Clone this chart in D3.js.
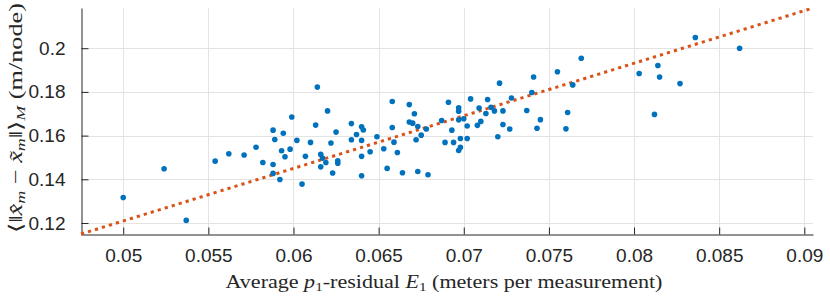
<!DOCTYPE html>
<html>
<head>
<meta charset="utf-8">
<script src="https://cdn.jsdelivr.net/npm/d3@7"></script>
<style>
  html, body { margin: 0; padding: 0; background: #fff; }
  svg { display: block; }
</style>
</head>
<body>
<div id="chart"></div>
<script>
// residual E1 (x) vs mean position error (y), one point per run
const residualE1 = [
  0.0500, 0.0524, 0.0537, 0.0554, 0.0562, 0.0571, 0.0578, 0.0582, 0.0588, 0.0589,
  0.0594, 0.0593, 0.0595, 0.0588, 0.0588, 0.0592, 0.0598, 0.0599, 0.0614, 0.0613,
  0.0620, 0.0602, 0.0610, 0.0616, 0.0607, 0.0617, 0.0616, 0.0619, 0.0605, 0.0622,
  0.0625, 0.0626, 0.0626, 0.0623, 0.0634, 0.0640, 0.0641, 0.0637, 0.0634, 0.0640,
  0.0640, 0.0640, 0.0649, 0.0645, 0.0653, 0.0658, 0.0658, 0.0659, 0.0661, 0.0655,
  0.0664, 0.0668, 0.0668, 0.0670, 0.0672, 0.0671, 0.0673, 0.0675, 0.0678, 0.0673,
  0.0679, 0.0687, 0.0691, 0.0693, 0.0689, 0.0694, 0.0697, 0.0697, 0.0697, 0.0700,
  0.0702, 0.0698, 0.0698, 0.0697, 0.0702, 0.0704, 0.0709, 0.0713, 0.0710, 0.0708,
  0.0714, 0.0716, 0.0718, 0.0721, 0.0723, 0.0723, 0.0720, 0.0728, 0.0727, 0.0737,
  0.0740, 0.0741, 0.0743, 0.0745, 0.0755, 0.0760, 0.0761, 0.0769, 0.0764, 0.0803,
  0.0814, 0.0815, 0.0812, 0.0827, 0.0836, 0.0862
]
const meanError = [
  0.1317, 0.1448, 0.1212, 0.1483, 0.1517, 0.1511, 0.1547, 0.1477, 0.1625, 0.1582,
  0.1611, 0.1531, 0.1503, 0.1468, 0.1427, 0.1399, 0.1538, 0.1685, 0.1822, 0.1648,
  0.1713, 0.1578, 0.1569, 0.1514, 0.1505, 0.1497, 0.1457, 0.1477, 0.1378, 0.1566,
  0.1616, 0.1474, 0.1485, 0.1429, 0.1655, 0.1640, 0.1626, 0.1605, 0.1581, 0.1578,
  0.1505, 0.1416, 0.1595, 0.1526, 0.1540, 0.1756, 0.1637, 0.1570, 0.1523, 0.1450,
  0.1430, 0.1742, 0.1662, 0.1657, 0.1581, 0.1700, 0.1642, 0.1602, 0.1630, 0.1436,
  0.1421, 0.1669, 0.1753, 0.1625, 0.1569, 0.1569, 0.1727, 0.1712, 0.1672, 0.1677,
  0.1644, 0.1587, 0.1546, 0.1532, 0.1587, 0.1768, 0.1726, 0.1701, 0.1665, 0.1647,
  0.1765, 0.1730, 0.1713, 0.1840, 0.1713, 0.1651, 0.1595, 0.1772, 0.1630, 0.1715,
  0.1797, 0.1868, 0.1634, 0.1673, 0.1892, 0.1631, 0.1706, 0.1954, 0.1832, 0.1884,
  0.1921, 0.1868, 0.1697, 0.1838, 0.2049, 0.2000
]

// least squares fit, endpoints at the axis corners
const fitX = [0.04752, 0.09051]
const fitY = [0.11497, 0.2184]

const xTicks = [0.05, 0.055, 0.06, 0.065, 0.07, 0.075, 0.08, 0.085, 0.09]
const yTicks = [0.12, 0.14, 0.16, 0.18, 0.2]

const width = 830
const height = 296
const margin = { top: 8, right: 17, bottom: 62, left: 81 }

const svg = d3.select("#chart")
  .append("svg")
  .attr("width", width)
  .attr("height", height)

const x = d3.scaleLinear()
  .domain([fitX[0], fitX[1]])
  .range([margin.left, width - margin.right])

const y = d3.scaleLinear()
  .domain([fitY[0], fitY[1]])
  .range([height - margin.bottom, margin.top])

const fmt = v => String(+v.toFixed(3))

// grid
svg.append("g")
  .selectAll("line")
  .data(xTicks)
  .join("line")
  .attr("x1", d => Math.round(x(d)) + 0.5)
  .attr("x2", d => Math.round(x(d)) + 0.5)
  .attr("y1", margin.top)
  .attr("y2", height - margin.bottom)
  .attr("stroke", "#e3e3e3")

svg.append("g")
  .selectAll("line")
  .data(yTicks)
  .join("line")
  .attr("x1", margin.left)
  .attr("x2", width - margin.right)
  .attr("y1", d => Math.round(y(d)) + 0.5)
  .attr("y2", d => Math.round(y(d)) + 0.5)
  .attr("stroke", "#e3e3e3")

// axes, ticks pointing inward like matlab
const xAxis = svg.append("g")
  .attr("transform", `translate(0,${Math.round(height - margin.bottom) + 0.5})`)
  .call(d3.axisBottom(x).tickValues(xTicks).tickFormat(fmt).tickSizeInner(-7).tickSizeOuter(0).tickPadding(14))

const yAxis = svg.append("g")
  .attr("transform", `translate(${margin.left + 0.5},0)`)
  .call(d3.axisLeft(y).tickValues(yTicks).tickFormat(fmt).tickSizeInner(-7).tickSizeOuter(0).tickPadding(16))

;[xAxis, yAxis].forEach(g => {
  g.select(".domain").attr("stroke", "#262626")
  g.selectAll(".tick line").attr("stroke", "#262626")
  g.selectAll(".tick text")
    .attr("fill", "#262626")
    .style("font-family", "'Liberation Sans', Arial, sans-serif")
    .style("font-size", "19px")
})

// fit line
svg.append("line")
  .attr("x1", x(fitX[0]))
  .attr("y1", y(fitY[0]))
  .attr("x2", x(fitX[1]))
  .attr("y2", y(fitY[1]))
  .attr("stroke", "#D95319")
  .attr("stroke-width", 3)
  .attr("stroke-dasharray", "3.2,4.1")

// points
svg.append("g")
  .selectAll("circle")
  .data(d3.range(residualE1.length))
  .join("circle")
  .attr("cx", i => x(residualE1[i]))
  .attr("cy", i => y(meanError[i]))
  .attr("r", 2.8)
  .attr("fill", "#0072BD")

// labels (latex-ish)
const serif = "'Liberation Serif', 'DejaVu Serif', serif"

const xl = svg.append("text")
  .attr("x", (margin.left + width - margin.right) / 2 - 3)
  .attr("y", 288)
  .attr("text-anchor", "middle")
  .attr("fill", "#262626")
  .style("font-family", serif)
  .style("font-size", "19px")
xl.append("tspan").text("Average ")
xl.append("tspan").attr("font-style", "italic").text("p")
xl.append("tspan").attr("font-size", "13px").attr("dy", 3).text("1")
xl.append("tspan").attr("dy", -3).text("-residual ")
xl.append("tspan").attr("font-style", "italic").text("E")
xl.append("tspan").attr("font-size", "13px").attr("dy", 3).text("1")
xl.append("tspan").attr("dy", -3).text(" (meters per measurement)")

const yl = svg.append("text")
  .attr("transform", "translate(22,118) rotate(-90)")
  .attr("text-anchor", "middle")
  .attr("fill", "#262626")
  .style("font-family", serif)
  .style("font-size", "19px")
yl.append("tspan").text("⟨‖")
yl.append("tspan").attr("font-style", "italic").text("x\u0302")
yl.append("tspan").attr("font-style", "italic").attr("font-size", "13px").attr("dy", 3).text("m")
yl.append("tspan").attr("dy", -3).text(" − ")
yl.append("tspan").attr("font-style", "italic").text("x\u0303")
yl.append("tspan").attr("font-style", "italic").attr("font-size", "13px").attr("dy", 3).text("m")
yl.append("tspan").attr("dy", -3).text("‖⟩")
yl.append("tspan").attr("font-style", "italic").attr("font-size", "13px").attr("dy", 3).text("M")
yl.append("tspan").attr("dy", -3).text(" (m/node)")

// stretch labels to the width measured on the reference
const xw = xl.node().getComputedTextLength()
if (Math.abs(xw - 437) > 4) xl.attr("textLength", 437).attr("lengthAdjust", "spacingAndGlyphs")
const yw = yl.node().getComputedTextLength()
if (Math.abs(yw - 230) > 4) yl.attr("textLength", 230).attr("lengthAdjust", "spacingAndGlyphs")
</script>
</body>
</html>
